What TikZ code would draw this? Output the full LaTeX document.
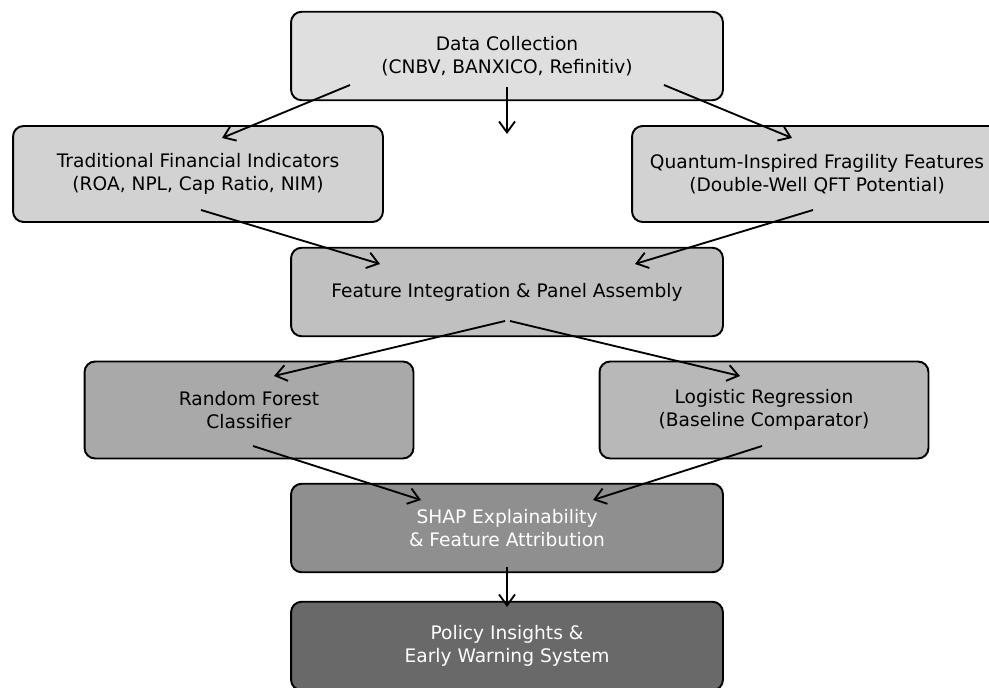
\documentclass[tikz,border=0pt]{standalone}
\usepackage{fontspec}
\setmainfont{DejaVu Sans}
\usepackage{tikz}
\usetikzlibrary{arrows.meta}
\definecolor{boxA}{HTML}{DFDFDF}
\definecolor{boxB}{HTML}{D2D2D2}
\definecolor{boxC}{HTML}{C0C0C0}
\definecolor{boxD}{HTML}{A9A9A9}
\definecolor{boxE}{HTML}{B8B8B8}
\definecolor{boxF}{HTML}{8F8F8F}
\definecolor{boxG}{HTML}{696969}
\tikzset{
  stage/.style={draw=black, line width=1.1pt, rounded corners=6pt, align=center,
    font=\fontsize{10.6}{12.8}\selectfont, inner sep=0pt},
  wide/.style={stage, minimum width=8.64cm, minimum height=1.77cm},
  side/.style={stage, minimum width=7.4cm, minimum height=1.92cm},
  model/.style={stage, minimum width=6.58cm, minimum height=1.94cm},
  flow/.style={-{Straight Barb[length=2.2mm,width=3.2mm]}, line width=1.05pt},
}

\begin{document}
\begin{tikzpicture}[x=0.02cm, y=-0.02cm]
  \useasboundingbox (0,0) rectangle (989,688);

  % --- boxes ---
  \node[wide, fill=boxA] (data) at (507,56) {Data Collection\\(CNBV, BANXICO, Refinitiv)};
  \node[side, fill=boxB] (trad) at (198,174) {Traditional Financial Indicators\\(ROA, NPL, Cap Ratio, NIM)};
  \node[side, fill=boxB] (quant) at (817,174) {Quantum-Inspired Fragility Features\\(Double-Well QFT Potential)};
  \node[wide, fill=boxC] (integ) at (507,292) {Feature Integration \& Panel Assembly};
  \node[model, fill=boxD] (rf) at (249,410) {Random Forest\\Classifier};
  \node[model, fill=boxE] (logit) at (764,410) {Logistic Regression\\(Baseline Comparator)};
  \node[wide, fill=boxF, text=white] (shap) at (507,528) {SHAP Explainability\\\& Feature Attribution};
  \node[wide, fill=boxG, text=white] (policy) at (507,646) {Policy Insights \&\\Early Warning System};

  % --- arrow ends ---
  \coordinate (dataL) at (350,85);
  \coordinate (dataM) at (507,87);
  \coordinate (dataR) at (664,85);
  \coordinate (tradIn) at (222,138);
  \coordinate (midIn) at (507,134);
  \coordinate (quantIn) at (792,138);
  \coordinate (tradOut) at (201,210);
  \coordinate (quantOut) at (813,210);
  \coordinate (integL) at (380,264);
  \coordinate (integR) at (635,264);
  \coordinate (integOutL) at (505,321);
  \coordinate (integOutR) at (510,321);
  \coordinate (rfIn) at (274,376);
  \coordinate (logitIn) at (740,376);
  \coordinate (rfOut) at (253,446);
  \coordinate (logitOut) at (762,446);
  \coordinate (shapL) at (421,500);
  \coordinate (shapR) at (593,500);
  \coordinate (shapOut) at (507,567);
  \coordinate (policyIn) at (507,607);

  % --- connectors ---
  \draw[flow] (dataL) -- (tradIn);
  \draw[flow] (dataM) -- (midIn);
  \draw[flow] (dataR) -- (quantIn);
  \draw[flow] (tradOut) -- (integL);
  \draw[flow] (quantOut) -- (integR);
  \draw[flow] (integOutL) -- (rfIn);
  \draw[flow] (integOutR) -- (logitIn);
  \draw[flow] (rfOut) -- (shapL);
  \draw[flow] (logitOut) -- (shapR);
  \draw[flow] (shapOut) -- (policyIn);
\end{tikzpicture}
\end{document}
